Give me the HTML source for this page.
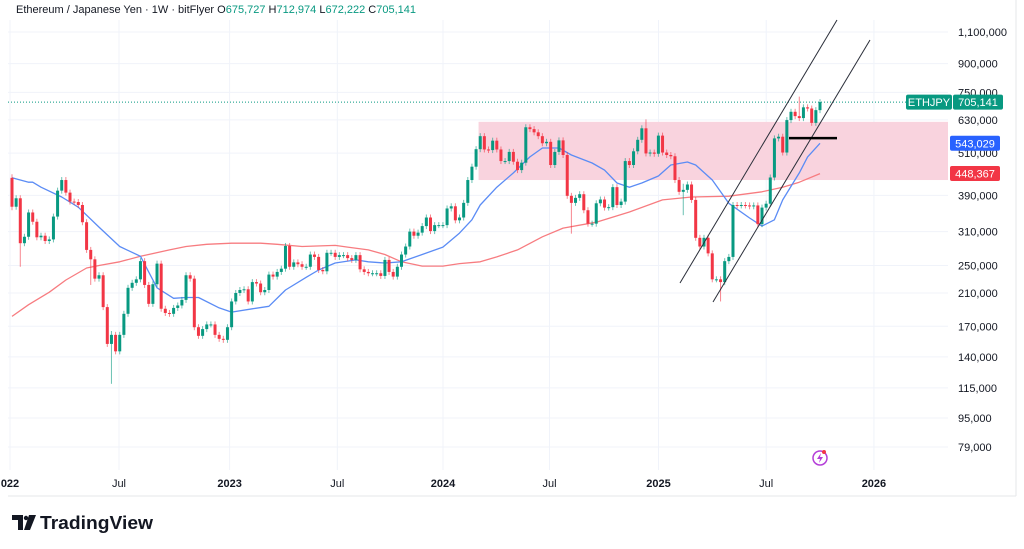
<!DOCTYPE html>
<html><head><meta charset="utf-8">
<style>
html,body{margin:0;padding:0;background:#fff;width:1024px;height:549px;overflow:hidden;font-family:"Liberation Sans",sans-serif;}
svg{position:absolute;left:0;top:0}
</style></head>
<body>
<svg id="chart" width="1024" height="549">
  <rect x="0" y="0" width="1024" height="549" fill="#fff"/>
  <line x1="1016" y1="0" x2="1016" y2="496" stroke="#e6e7ea"/>
  <line x1="8" y1="496" x2="1016" y2="496" stroke="#e6e7ea"/>
  <g id="grid"></g>
  <g id="zone"></g>
  <g id="mas"></g>
  <g id="candles"></g>
  <g id="draw"></g>
  <g id="yaxis"></g>
  <g id="xaxis"></g>
  <text x="16" y="13" font-size="11" fill="#131722" textLength="400" lengthAdjust="spacingAndGlyphs">Ethereum / Japanese Yen · 1W · bitFlyer  <tspan fill="#131722">O</tspan><tspan fill="#089981">675,727</tspan>  <tspan fill="#131722">H</tspan><tspan fill="#089981">712,974</tspan>  <tspan fill="#131722">L</tspan><tspan fill="#089981">672,222</tspan>  <tspan fill="#131722">C</tspan><tspan fill="#089981">705,141</tspan></text>
  <g>
    <circle cx="820" cy="458" r="7" fill="none" stroke="#b43ed8" stroke-width="1.5"/>
    <path d="M821 453 L817 459 L820 459 L819 463 L823 457 L820 457 Z" fill="#b43ed8"/>
    <circle cx="824" cy="452" r="2" fill="#f23645"/>
  </g>
  <g>
    <path d="M12 515 H23 V530 H18 V520 H12 Z" fill="#131722"/>
    <circle cx="26" cy="518" r="2.2" fill="#131722"/>
    <path d="M29 515 H36 L30 530 H24 Z" fill="#131722"/>
    <text x="40" y="529" font-size="18" font-weight="bold" fill="#131722" textLength="113" lengthAdjust="spacingAndGlyphs">TradingView</text>
  </g>
</svg>
<script>
const closes=[363,383,288,300,350,330,299,302,292,295,341,402,430,397,375,374,367,329,276,260,230,235,192,152,161,145,161,184,217,224,229,257,221,196,222,253,190,185,184,191,194,201,235,230,169,160,167,172,172,161,157,156,169,199,210,214,215,199,225,223,211,214,236,233,240,245,283,248,255,252,248,248,268,264,243,241,271,271,264,267,267,262,259,267,244,240,238,238,238,234,259,240,233,248,268,282,310,302,308,321,339,311,323,323,323,359,364,333,339,372,430,468,523,568,522,520,552,522,485,485,514,483,458,480,601,594,582,568,543,548,473,514,553,504,389,372,384,393,355,326,326,371,380,361,362,411,367,375,485,473,516,555,597,509,512,508,570,512,504,500,430,399,404,418,379,298,282,298,270,229,229,225,257,264,367,366,367,366,364,366,325,361,370,437,560,566,512,629,663,645,637,682,677,618,670,705];
const firstOpen=436;
const wickIdx=[0,2,19,24,135,153,162,171,190];
const wickHigh=[446,300,280,165,395,632,420,232,730];
const wickLow=[355,248,221,118,306,505,344,199,640];
const blueIdx=[0,4,5,7,12,16,21,26,31,35,39,42,45,50,53,58,62,66,71,74,78,83,86,90,94,99,104,108,111,113,117,121,125,128,132,135,140,143,146,149,152,156,159,163,165,169,173,178,181,184,186,190,192,195];
const blueVal=[436,424,424,411,386,362,319,282,265,217,203,204,204,191,186,190,193,214,232,243,254,259,256,254,256,268,281,307,334,367,411,450,498,527,527,504,479,458,422,411,422,441,473,482,473,430,371,338,321,334,379,450,498,543];
const redIdx=[0,4,9,13,18,21,26,31,38,42,47,53,60,64,70,78,81,86,90,94,99,104,108,113,117,122,128,133,141,149,157,164,173,181,186,190,195];
const redVal=[181,195,211,228,246,250,256,265,276,282,286,288,288,286,282,284,281,276,268,256,249,249,253,256,264,276,300,317,329,351,379,386,388,399,411,424,448];
const yTicks=[1100,900,750,630,510,390,310,250,210,170,140,115,95,79];
const xTickLabels=["022","Jul","2023","Jul","2024","Jul","2025","Jul","2026"];
const xTickIdx=[0,26.3,53,79,104.5,130.2,156.5,182.5,208.5];
const zoneTop=622, zoneBottom=430, zoneStartIdx=112.6;
const lastPrice=705.141;

const NS="http://www.w3.org/2000/svg";
const step=808/(closes.length-1);
const X=i=>12+i*step;
const Y=v=>32+(Math.log(1100)-Math.log(v))*157.6;
function mk(tag,attrs,parent){const e=document.createElementNS(NS,tag);for(const k in attrs)e.setAttribute(k,attrs[k]);parent.appendChild(e);return e;}
const g=id=>document.getElementById(id);

yTicks.forEach(v=>{
  const l=mk('line',{x1:8,x2:948,y1:Y(v),y2:Y(v),stroke:'#f0f3fa'},g('grid'));
  
  
});
xTickIdx.forEach(i=>{
  const l=mk('line',{x1:X(i)-2,x2:X(i)-2,y1:20,y2:470,stroke:'#f0f3fa'},g('grid'));
  
  
});
const pl=mk('line',{x1:8,x2:948,y1:Y(lastPrice),y2:Y(lastPrice),stroke:'#089981','stroke-dasharray':'1 2','stroke-width':1},g('grid'));



const zr=mk('rect',{x:X(zoneStartIdx),y:Y(zoneTop),width:948-X(zoneStartIdx),height:Y(zoneBottom)-Y(zoneTop),fill:'#f9d3de'},g('zone'));



function maPath(idx,val,color,name){
  const d=idx.map((i,k)=>(k?'L':'M')+X(i).toFixed(1)+' '+Y(val[k]).toFixed(1)).join(' ');
  const p=mk('path',{d:d,fill:'none',stroke:color,'stroke-width':1.3,'stroke-linejoin':'round'},g('mas'));
  
  
}
maPath(redIdx,redVal,'#f77c80','ma-long-red');
maPath(blueIdx,blueVal,'#5b8cf5','ma-short-blue');

closes.forEach((c,i)=>{
  const o=i?closes[i-1]:firstOpen;
  const up=c>=o;const col=up?'#089981':'#f23645';
  const yt=Y(Math.max(o,c)),yb=Y(Math.min(o,c));
  const wi=wickIdx.indexOf(i);
  let hy=yt-3,ly=yb+3;
  if(wi>=0){hy=Math.min(hy,Y(wickHigh[wi]));ly=Math.max(ly,Y(wickLow[wi]));}
  const w=mk('line',{x1:X(i),x2:X(i),y1:hy,y2:ly,stroke:col,'stroke-opacity':0.6},g('candles'));
  
  
  const b=mk('rect',{x:X(i)-1.5,y:yt,width:3,height:Math.max(1,yb-yt),fill:col},g('candles'));
  
  
});

[[680,283,837,20],[713,302,870,40]].forEach(a=>{
  const l=mk('line',{x1:a[0],y1:a[1],x2:a[2],y2:a[3],stroke:'#2a2e39','stroke-width':1},g('draw'));
  
  
});
const hl=mk('line',{x1:789,x2:837,y1:Y(561),y2:Y(561),stroke:'#000','stroke-width':2.5},g('draw'));



yTicks.forEach(v=>{
  const t=mk('text',{x:958,y:Y(v)+4,'font-size':11,fill:'#131722'},g('yaxis'));
  t.textContent=(v*1000).toLocaleString('en-US');
  
  
});
function tag(x,w,v,bg,txt,name){
  const y=Y(v);
  const r=mk('rect',{x:x,y:y-7.5,width:w,height:15,rx:2,fill:bg},g('yaxis'));
  
  
  const t=mk('text',{x:x+w/2,y:y+4,'font-size':11,fill:'#fff','text-anchor':'middle'},g('yaxis'));
  t.textContent=txt;
  
  
}
tag(906,46,lastPrice,'#089981','ETHJPY','symbol-tag');
tag(953,50,lastPrice,'#089981','705,141','last-price-label');
tag(950,50,543.029,'#2962ff','543,029','blue-ma-label');
tag(950,50,448.367,'#f23645','448,367','red-ma-label');

xTickLabels.forEach((s,k)=>{
  const t=mk('text',{x:X(xTickIdx[k])-2,y:487,'font-size':11,fill:'#131722','text-anchor':'middle','font-weight':/^\d/.test(s)?'bold':'normal'},g('xaxis'));
  t.textContent=s;
  
  
});
</script>
</body></html>
